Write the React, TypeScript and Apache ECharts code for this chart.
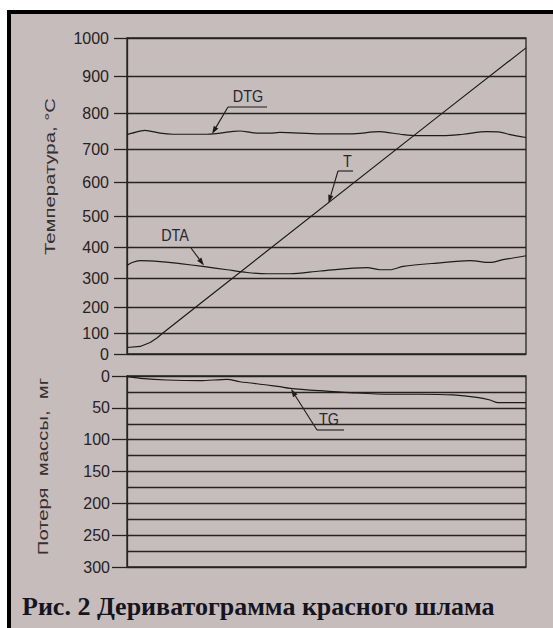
import React, { useEffect, useRef } from "react";
import * as echarts from "echarts";

// ---- Tick labels ----
const tempTicks = [0, 100, 200, 300, 400, 500, 600, 700, 800, 900, 1000];
// printed (non-uniform) position of each temperature tick, measured from the 0 line
const tempTickPos = [0, 21, 46.5, 76, 106.5, 138, 171.5, 205, 241, 278, 316];
const massMax = 300;

// ---- Series (x in % of run, y in °C or mg) ----
const dtgX = [0, 1.3, 4.5, 8.3, 11.5, 20, 26.6, 28.3, 31.6, 35.8, 38.3, 48.4, 55.9, 63.4, 64.7, 69.2, 72.7, 79.2, 84.2, 90.2, 93.5, 96, 100];
const dtgV = [740, 744, 752, 744, 741, 741, 749, 750, 745, 744, 746, 742, 742, 748, 747, 740, 737, 737, 741, 748, 747, 740, 732];

const dtaX = [0, 1.3, 3.3, 8.3, 13.3, 19, 25.1, 30.1, 35.1, 40.9, 48.4, 60.2, 63.4, 65.9, 69.2, 77.7, 86, 91, 94.2, 100];
const dtaV = [341, 351, 357, 354, 347, 338, 327, 318, 314, 314, 323, 334, 327, 327, 338, 349, 357, 351, 360, 373];

const tX = [0, 3.3, 5.8, 7.5, 9, 18.3, 79.2, 100];
const tV = [31, 36, 55, 76, 100, 213, 801, 974];

const tgX = [0, 3.3, 10, 18.3, 25.1, 28.3, 35.1, 38.3, 40.9, 48.4, 55.9, 65.9, 73.4, 81.7, 87.7, 91, 93, 100];
const tgV = [1.1, 3.6, 6.3, 7.4, 5.2, 9, 14.1, 16.8, 19.3, 23.1, 26.2, 28.7, 28.7, 29.8, 33.5, 37.7, 41.9, 41.9];

const titleText = "Рис. 2 Дериватограмма красного шлама";
const yName1 = "Температура, °С";
const yName2 = "Потеря  массы,  мг";

// map a temperature to the printed (non-uniform) scale
function toPos(v: number): number {
  for (let i = 0; i < tempTicks.length - 1; i++) {
    if (v <= tempTicks[i + 1]) {
      const f = (v - tempTicks[i]) / (tempTicks[i + 1] - tempTicks[i]);
      return tempTickPos[i] + f * (tempTickPos[i + 1] - tempTickPos[i]);
    }
  }
  return tempTickPos[tempTickPos.length - 1];
}

const INK = "#262222";
const LINE = "#1c1a1a";

function arrow(x1: number, y1: number, x2: number, y2: number) {
  const dx = x2 - x1, dy = y2 - y1;
  const len = Math.sqrt(dx * dx + dy * dy);
  const ux = dx / len, uy = dy / len;
  const bx = x2 - ux * 8, by = y2 - uy * 8;
  const px = -uy * 2.6, py = ux * 2.6;
  return [
    { type: "line", shape: { x1, y1, x2: bx, y2: by }, style: { stroke: LINE, lineWidth: 1.1 }, silent: true },
    { type: "polygon", shape: { points: [[x2, y2], [bx + px, by + py], [bx - px, by - py]] }, style: { fill: LINE }, silent: true },
  ];
}

const callouts = [
  { text: "DTG", tx: 248, ty: 96, under: [228, 267, 107], from: [228, 107], to: [212, 134] },
  { text: "T", tx: 347.5, ty: 161, under: [338, 353, 171], from: [338, 171], to: [328.5, 203] },
  { text: "DTA", tx: 175, ty: 235.5, under: null as null | number[], from: [191, 248], to: [204, 265.5] },
  { text: "TG", tx: 329, ty: 419, under: [317, 344, 430], from: [317, 430], to: [291, 389] },
];

export default function App() {
  const ref = useRef<HTMLDivElement>(null);
  useEffect(() => {
    if (!ref.current) return;
    const chart = echarts.init(ref.current, undefined, { renderer: "svg" });
    const labelStyle = { fontSize: 16, color: "#262222", fontFamily: "'Liberation Sans', Arial, sans-serif" };
    const gl = { color: INK, width: 1.3 };
    const lineSeries = (name: string, xs: number[], ys: number[], axis: number, smooth: number | boolean) => ({
      name,
      type: "line",
      xAxisIndex: axis,
      yAxisIndex: axis,
      data: xs.map((x, i) => [x, axis === 0 ? toPos(ys[i]) : ys[i]]),
      showSymbol: false,
      smooth,
      silent: true,
      lineStyle: { color: LINE, width: 1.2 },
    });

    const graphic: any[] = [];
    callouts.forEach((c) => {
      graphic.push({
        type: "text", x: c.tx, y: c.ty, scaleX: 0.9, silent: true,
        style: { text: c.text, fontSize: 16, fill: "#262630", align: "center", verticalAlign: "middle", fontFamily: "'Liberation Sans', Arial, sans-serif" },
      });
      if (c.under) {
        graphic.push({ type: "line", shape: { x1: c.under[0], y1: c.under[2], x2: c.under[1], y2: c.under[2] }, style: { stroke: LINE, lineWidth: 1.1 }, silent: true });
      }
      graphic.push(...arrow(c.from[0], c.from[1], c.to[0], c.to[1]));
    });
    graphic.push({
      type: "text", x: 50, y: 176.5, rotation: Math.PI / 2, scaleX: 1.45, silent: true,
      style: { text: yName1, fontSize: 14, fill: "#363030", align: "center", verticalAlign: "middle", fontFamily: "'Liberation Sans', Arial, sans-serif" },
    });
    graphic.push({
      type: "text", x: 43, y: 466.5, rotation: Math.PI / 2, scaleX: 1.45, silent: true,
      style: { text: yName2, fontSize: 14, fill: "#363030", align: "center", verticalAlign: "middle", fontFamily: "'Liberation Sans', Arial, sans-serif" },
    });
    graphic.push({
      type: "text", x: 22, y: 606, silent: true,
      style: { text: titleText, fontSize: 26, fontWeight: "bold", fill: "#15151f", align: "left", verticalAlign: "middle", fontFamily: "'Liberation Serif', 'Times New Roman', serif" },
    });

    chart.setOption({
      animation: false,
      grid: [
        { left: 127, top: 38, width: 399, height: 316, show: true, borderColor: INK, borderWidth: 1.3, backgroundColor: "transparent" },
        { left: 127, top: 376, width: 399, height: 191, show: true, borderColor: INK, borderWidth: 1.3, backgroundColor: "transparent" },
      ],
      xAxis: [
        { gridIndex: 0, type: "value", min: 0, max: 100, show: false },
        { gridIndex: 1, type: "value", min: 0, max: 100, show: false },
      ],
      yAxis: [
        {
          gridIndex: 0, type: "value", min: 0, max: tempTickPos[tempTickPos.length - 1],
          axisLine: { show: true, lineStyle: gl },
          axisTick: { show: true, length: 13, customValues: tempTickPos, lineStyle: gl },
          axisLabel: {
            ...labelStyle, margin: 18, customValues: tempTickPos, showMinLabel: true, showMaxLabel: true,
            formatter: (v: number) => {
              let best = 0;
              tempTickPos.forEach((p, i) => { if (Math.abs(p - v) < Math.abs(tempTickPos[best] - v)) best = i; });
              return String(tempTicks[best]);
            },
          },
          splitLine: { show: true, lineStyle: gl },
        },
        {
          gridIndex: 1, type: "value", inverse: true, min: 0, max: massMax, interval: 50,
          axisLine: { show: true, lineStyle: gl },
          axisTick: { show: true, length: 15, lineStyle: gl },
          axisLabel: { ...labelStyle, margin: 17, showMinLabel: true, showMaxLabel: true },
          splitLine: { show: true, lineStyle: gl },
          minorTick: { show: false, splitNumber: 2 },
          minorSplitLine: { show: true, lineStyle: gl },
        },
      ],
      series: [
        lineSeries("DTG", dtgX, dtgV, 0, 0.3),
        lineSeries("DTA", dtaX, dtaV, 0, 0.3),
        lineSeries("T", tX, tV, 0, false),
        lineSeries("TG", tgX, tgV, 1, 0.3),
      ],
      graphic,
    });
    return () => chart.dispose();
  }, []);

  return (
    <div style={{ position: "fixed", left: 0, top: 0, width: 553, height: 628, background: "#fff", overflow: "hidden" }}>
      <div style={{ position: "absolute", left: 7, top: 10, width: 546, height: 618, background: "#c7bcbc", borderLeft: "4px solid #000", borderTop: "4px solid #000", boxSizing: "border-box" }} />
      <div ref={ref} style={{ position: "absolute", left: 0, top: 0, width: 553, height: 628 }} />
    </div>
  );
}
